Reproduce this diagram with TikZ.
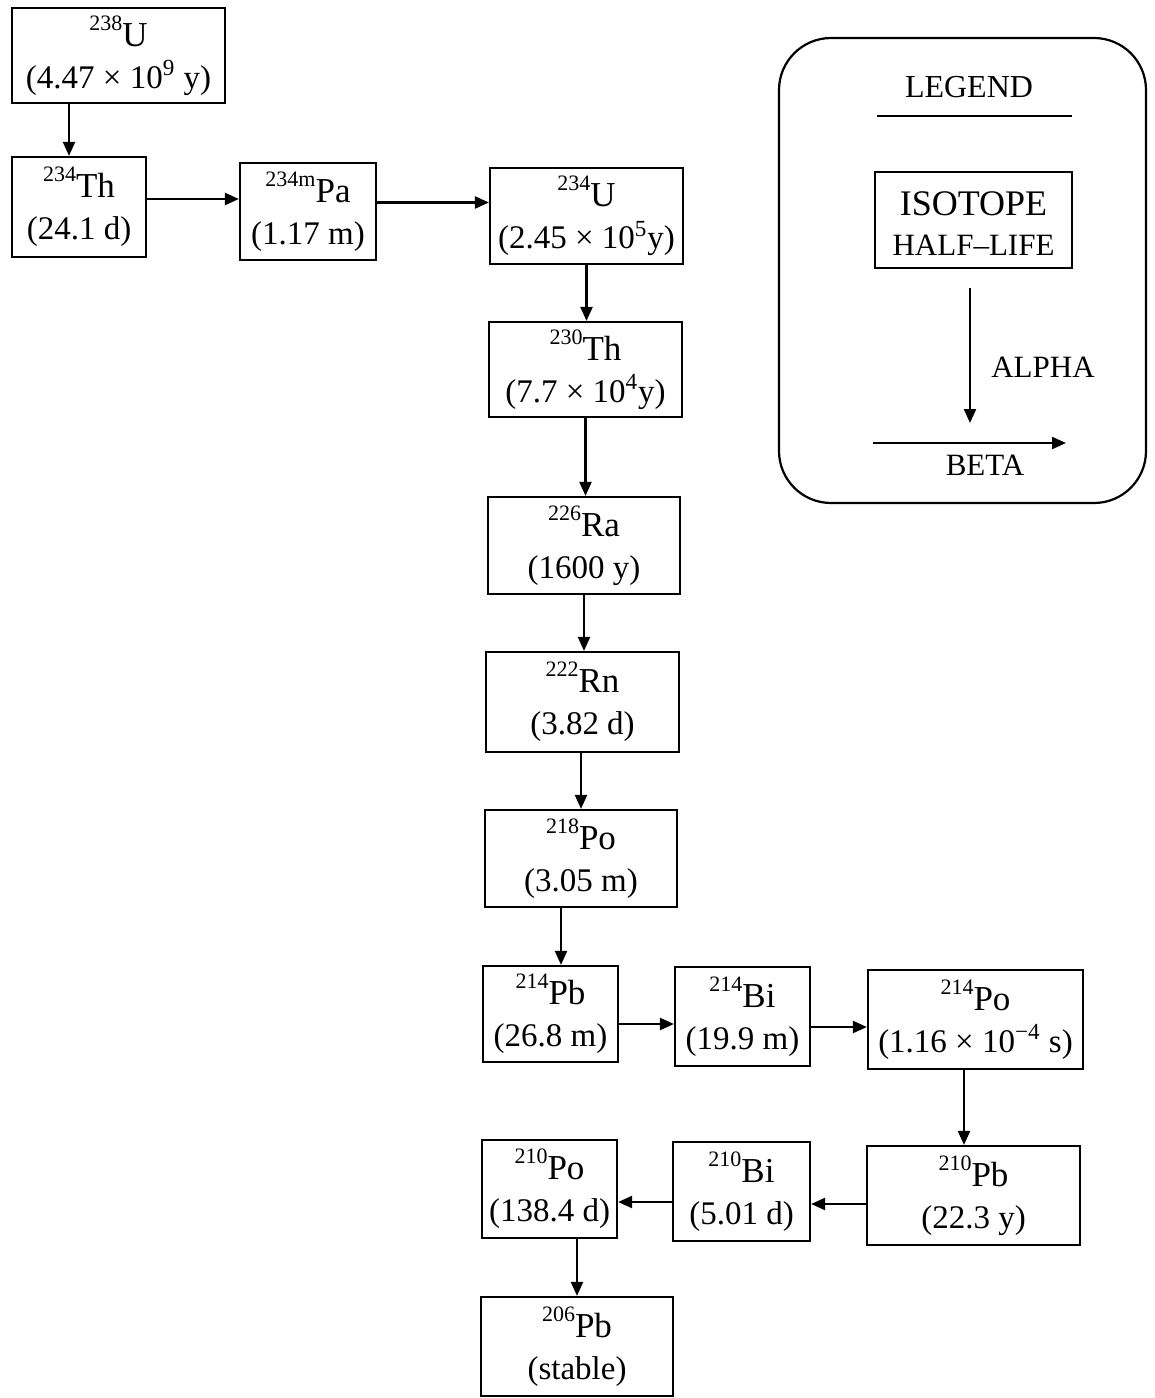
\documentclass[tikz,border=0pt]{standalone}
\usepackage{fontspec}
\setmainfont{Liberation Serif}
\usetikzlibrary{arrows.meta}
\newcommand\isosym[2]{{\fontsize{17.5}{21}\selectfont\raisebox{8pt}{\fontsize{11}{11}\selectfont #1}#2}}
\begin{document}
\begin{tikzpicture}[x=0.5pt,y=-0.5pt,
  iso/.style={draw, line width=1.1pt, align=center, inner sep=0pt,
    font=\fontsize{16.5}{21}\selectfont},
  arr/.style={line width=1.1pt, -{Triangle[length=7pt,width=6pt]}},
  lab/.style={inner sep=0pt, anchor=base},
]
\useasboundingbox (0,0) rectangle (1155,1398);
% isotope boxes
\node[iso, minimum width=106.5pt, minimum height=47.5pt] (u238) at (118.5,55.5) {\isosym{238}{U}\\(4.47 × 10\textsuperscript{9} y)};
\node[iso, minimum width=67pt, minimum height=50pt] (th234) at (79,207) {\isosym{234}{Th}\\(24.1 d)};
\node[iso, minimum width=68pt, minimum height=48.5pt] (pa234) at (308,211.5) {\isosym{234m}{Pa}\\(1.17 m)};
\node[iso, minimum width=96.5pt, minimum height=48pt] (u234) at (586.5,216) {\isosym{234}{U}\\(2.45 × 10\textsuperscript{5}y)};
\node[iso, minimum width=96.5pt, minimum height=47.5pt] (th230) at (585.5,369.5) {\isosym{230}{Th}\\(7.7 × 10\textsuperscript{4}y)};
\node[iso, minimum width=96pt, minimum height=48.5pt] (ra226) at (584,545.5) {\isosym{226}{Ra}\\(1600 y)};
\node[iso, minimum width=96.5pt, minimum height=50pt] (rn222) at (582.5,702) {\isosym{222}{Rn}\\(3.82 d)};
\node[iso, minimum width=96pt, minimum height=48.5pt] (po218) at (581,858.5) {\isosym{218}{Po}\\(3.05 m)};
\node[iso, minimum width=67.5pt, minimum height=48pt] (pb214) at (550.5,1014) {\isosym{214}{Pb}\\(26.8 m)};
\node[iso, minimum width=67.5pt, minimum height=49.5pt] (bi214) at (742.5,1016.5) {\isosym{214}{Bi}\\(19.9 m)};
\node[iso, minimum width=107.5pt, minimum height=49.5pt] (po214) at (975.5,1019.5) {\isosym{214}{Po}\\(1.16 × 10\textsuperscript{−4} s)};
\node[iso, minimum width=106.5pt, minimum height=49.5pt] (pb210) at (973.5,1195.5) {\isosym{210}{Pb}\\(22.3 y)};
\node[iso, minimum width=68.5pt, minimum height=49.5pt] (bi210) at (741.5,1191.5) {\isosym{210}{Bi}\\(5.01 d)};
\node[iso, minimum width=67.5pt, minimum height=49pt] (po210) at (549.5,1189) {\isosym{210}{Po}\\(138.4 d)};
\node[iso, minimum width=96pt, minimum height=49.5pt] (pb206) at (577,1346.5) {\isosym{206}{Pb}\\(stable)};
% vertical (alpha) connectors
\draw[arr] ([xshift=-24.75pt]u238.south) coordinate (t1) -- (t1 |- th234.north);
\draw[arr] (u234.south) -- (u234.south |- th230.north);
\draw[arr] (th230.south) -- (th230.south |- ra226.north);
\draw[arr] (ra226.south) -- (ra226.south |- rn222.north);
\draw[arr] ([xshift=-0.75pt]rn222.south) coordinate (t2) -- (t2 |- po218.north);
\draw[arr] ([xshift=-10pt]po218.south) coordinate (t3) -- (t3 |- pb214.north);
\draw[arr] ([xshift=-5.75pt]po214.south) coordinate (t4) -- (t4 |- pb210.north);
\draw[arr] (po210.south -| pb206.north) -- (pb206.north);
% horizontal (beta) connectors
\draw[arr] ([yshift=4pt]th234.east) coordinate (h1) -- (h1 -| pa234.west);
\draw[arr] ([yshift=4.5pt]pa234.east) coordinate (h2) -- (h2 -| u234.west);
\draw[arr] ([yshift=-5pt]pb214.east) coordinate (h3) -- (h3 -| bi214.west);
\draw[arr] ([yshift=-5.25pt]bi214.east) coordinate (h4) -- (h4 -| po214.west);
\draw[arr] ([yshift=-4.25pt]pb210.west) coordinate (h5) -- (h5 -| bi210.east);
\draw[arr] ([yshift=-5.25pt]bi210.west) coordinate (h6) -- (h6 -| po210.east);
% legend
\node[draw, line width=1.1pt, rounded corners=26pt, minimum width=183.5pt, minimum height=232.5pt, inner sep=0pt] (legend) at (962.5,270.5) {};
\node[lab, font=\fontsize{16}{19}\selectfont] (legtitle) at (969,97) {LEGEND};
\coordinate (ul1) at (877,116);
\coordinate (ul2) at (1072,116);
\draw[line width=1.1pt] (ul1) -- (ul2);
\node[draw, line width=1.1pt, minimum width=98.5pt, minimum height=48pt, inner sep=0pt] (isobox) at (973.5,220) {};
\node[lab, font=\fontsize{18}{20}\selectfont] (isotxt) at (973.5,215) {ISOTOPE};
\node[lab, font=\fontsize{15.5}{18}\selectfont] (hltxt) at (973.5,255) {HALF–LIFE};
\coordinate (a1) at (970,288);
\coordinate (a2) at (970,423);
\draw[arr] (a1) -- (a2);
\node[lab, font=\fontsize{15.5}{18}\selectfont] (alpha) at (1043,377) {ALPHA};
\coordinate (b1) at (873,443);
\coordinate (b2) at (1066,443);
\draw[arr] (b1) -- (b2);
\node[lab, font=\fontsize{15.5}{18}\selectfont] (beta) at (985,475) {BETA};
\end{tikzpicture}
\end{document}
